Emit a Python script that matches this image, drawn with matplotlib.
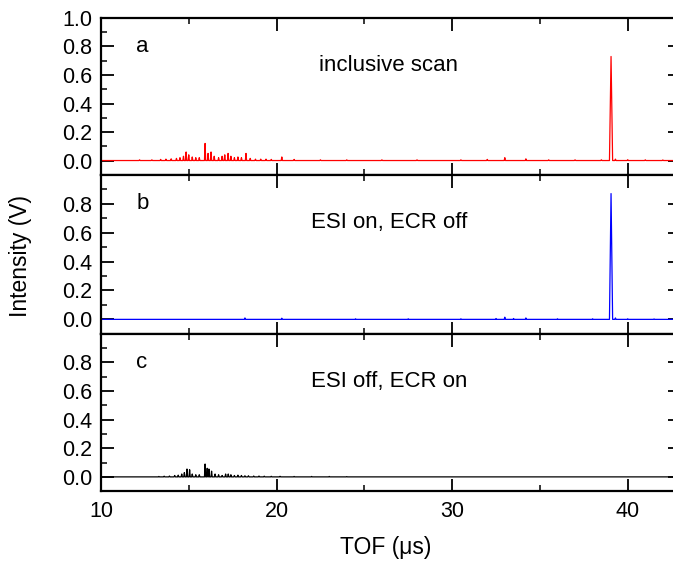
import matplotlib
matplotlib.use("Agg")
import matplotlib.pyplot as plt
from matplotlib.ticker import MultipleLocator, FormatStrFormatter

plt.rcParams['font.family'] = ['Liberation Sans', 'DejaVu Sans']

# ---- data (peak positions in TOF / us, peak heights in V) ----
a_pos = [12.2, 12.9, 13.4, 13.7, 14.0, 14.3, 14.5, 14.7, 14.85, 15.0, 15.2, 15.4, 15.6,
         15.93, 16.1, 16.27, 16.45, 16.7, 16.9, 17.05, 17.24, 17.4, 17.6, 17.8, 18.0,
         18.26, 18.5, 18.8, 19.1, 19.4, 19.7, 20.3, 21.0, 22.5, 24.0, 26.0, 28.0, 30.5,
         32.0, 33.0, 34.2, 35.5, 37.0, 38.5, 39.05, 39.3, 40.0, 41.0, 42.0]
a_int = [0.005, 0.005, 0.008, 0.01, 0.012, 0.015, 0.02, 0.03, 0.06, 0.04, 0.025, 0.02, 0.02,
         0.12, 0.05, 0.06, 0.03, 0.02, 0.03, 0.04, 0.05, 0.03, 0.02, 0.025, 0.02,
         0.05, 0.015, 0.01, 0.01, 0.01, 0.008, 0.025, 0.008, 0.005, 0.005, 0.005, 0.005, 0.005,
         0.008, 0.02, 0.012, 0.005, 0.005, 0.005, 0.73, 0.01, 0.006, 0.005, 0.004]

b_pos = [18.2, 20.3, 24.5, 27.5, 30.5, 32.5, 33.0, 33.5, 34.2, 36.0, 38.0, 39.05, 39.3, 40.0, 41.5]
b_int = [0.01, 0.008, 0.004, 0.004, 0.004, 0.006, 0.015, 0.006, 0.01, 0.004, 0.004, 0.87, 0.01, 0.004, 0.003]

c_pos = [13.3, 13.6, 13.9, 14.2, 14.4, 14.6, 14.75, 14.9, 15.05, 15.2, 15.4, 15.6, 15.93, 16.05,
         16.15, 16.3, 16.5, 16.7, 16.9, 17.1, 17.25, 17.4, 17.6, 17.8, 18.0, 18.2, 18.4, 18.7,
         19.0, 19.3, 19.7, 20.2, 21.0, 22.0, 23.0, 24.0]
c_int = [0.003, 0.005, 0.006, 0.01, 0.012, 0.02, 0.03, 0.055, 0.05, 0.02, 0.015, 0.015, 0.09, 0.06,
         0.055, 0.04, 0.02, 0.015, 0.01, 0.02, 0.02, 0.015, 0.01, 0.012, 0.01, 0.008, 0.008, 0.006,
         0.006, 0.005, 0.004, 0.004, 0.003, 0.003, 0.003, 0.002]

panel_letters = ['a', 'b', 'c']
panel_notes = ['inclusive scan', 'ESI on, ECR off', 'ESI off, ECR on']
panel_colors = ['#ff0000', '#0000ff', '#000000']
x_ticks = [10, 20, 30, 40]

XMIN, XMAX = 10, 43.0


def spectrum(pos, inten):
    xs, ys = [XMIN], [0.0]
    for p, h in sorted(zip(pos, inten)):
        w = 0.09 if h > 0.3 else 0.035
        xs += [p - w, p, p + w]
        ys += [0.0, h, 0.0]
    xs.append(XMAX)
    ys.append(0.0)
    return xs, ys


fig = plt.figure(figsize=(6.73, 5.62), dpi=100)
left, width = 0.150, 0.861
bottoms = [0.689, 0.406, 0.126]
heights = [0.279, 0.283, 0.280]

data = [(a_pos, a_int), (b_pos, b_int), (c_pos, c_int)]
for i in range(3):
    ax = fig.add_axes([left, bottoms[i], width, heights[i]])
    xs, ys = spectrum(*data[i])
    ax.plot(xs, ys, color=panel_colors[i], lw=0.9)
    ax.set_xlim(XMIN, XMAX)
    ax.set_ylim(-0.1, 1.0)
    ax.xaxis.set_major_locator(MultipleLocator(10))
    ax.xaxis.set_minor_locator(MultipleLocator(5))
    ax.yaxis.set_minor_locator(MultipleLocator(0.1))
    if i == 0:
        ax.set_yticks([0.0, 0.2, 0.4, 0.6, 0.8, 1.0])
    else:
        ax.set_yticks([0.0, 0.2, 0.4, 0.6, 0.8])
    ax.tick_params(which='major', direction='in', length=9, width=1.3,
                   top=True, right=True, labelsize=15.5)
    ax.tick_params(axis='y', which='major', pad=6.5)
    ax.tick_params(which='minor', direction='in', length=4.5, width=1.1,
                   top=True, right=False)
    ax.tick_params(axis='y', which='minor', left=True, right=False)
    for s in ax.spines.values():
        s.set_linewidth(1.6)
    if i < 2:
        ax.tick_params(axis='x', labelbottom=False)
    else:
        ax.set_xticks(x_ticks)
        ax.tick_params(axis='x', which='major', pad=7)
    ax.yaxis.set_major_formatter(FormatStrFormatter('%.1f'))
    ax.text(0.061, 0.82, panel_letters[i], transform=ax.transAxes, fontsize=16,
            ha='left', va='center')
    ax.text(0.497, 0.70, panel_notes[i], transform=ax.transAxes, fontsize=16,
            ha='center', va='center')

fig.text(0.03, 0.545, 'Intensity (V)', rotation=90, fontsize=16.5, ha='center', va='center')
fig.text(0.573, 0.025, 'TOF (\u03bcs)', fontsize=16.5, ha='center', va='center')

fig.savefig('out.png', dpi=100)
